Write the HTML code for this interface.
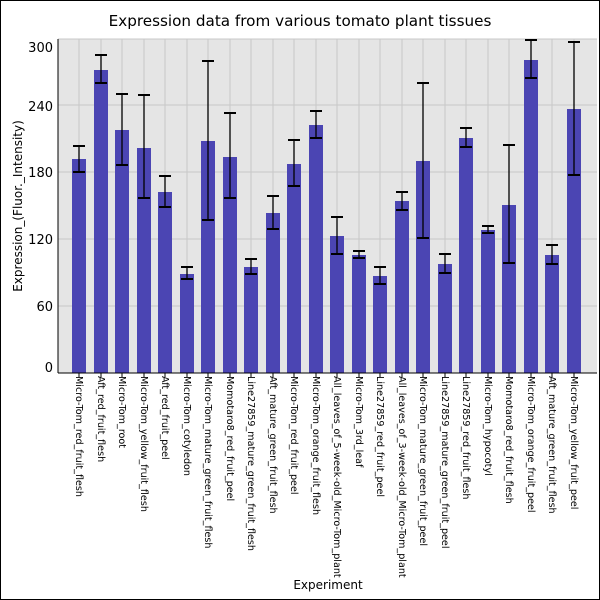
<!DOCTYPE html>
<html><head><meta charset="utf-8"><style>body{margin:0;background:#fff}svg{display:block}</style></head>
<body>
<svg width="600" height="600" xmlns="http://www.w3.org/2000/svg" font-family="DejaVu Sans, Liberation Sans, sans-serif">
<rect x="0.5" y="0.5" width="599" height="599" fill="#fff" stroke="#000"/>
<text x="300" y="26" text-anchor="middle" font-size="15.2">Expression data from various tomato plant tissues</text>
<rect x="58" y="39" width="539" height="334" fill="#e5e5e5"/>
<g stroke="#c8c8c8" stroke-width="1">
<line x1="58" x2="597" y1="306" y2="306"/><line x1="58" x2="597" y1="239" y2="239"/><line x1="58" x2="597" y1="172" y2="172"/><line x1="58" x2="597" y1="105" y2="105"/><line x1="58" x2="597" y1="39" y2="39"/>
<path d="M79 39V373M101 39V373M122 39V373M144 39V373M165 39V373M187 39V373M208 39V373M230 39V373M251 39V373M273 39V373M294 39V373M316 39V373M337 39V373M359 39V373M380 39V373M402 39V373M423 39V373M445 39V373M466 39V373M488 39V373M509 39V373M531 39V373M552 39V373M574 39V373"/>
</g>
<g fill="#4b45b3">
<rect x="72" y="159" width="14" height="214"/>
<rect x="94" y="70" width="14" height="303"/>
<rect x="115" y="130" width="14" height="243"/>
<rect x="137" y="148" width="14" height="225"/>
<rect x="158" y="192" width="14" height="181"/>
<rect x="180" y="274" width="14" height="99"/>
<rect x="201" y="141" width="14" height="232"/>
<rect x="223" y="157" width="14" height="216"/>
<rect x="244" y="267" width="14" height="106"/>
<rect x="266" y="213" width="14" height="160"/>
<rect x="287" y="164" width="14" height="209"/>
<rect x="309" y="125" width="14" height="248"/>
<rect x="330" y="236" width="14" height="137"/>
<rect x="352" y="255" width="14" height="118"/>
<rect x="373" y="276" width="14" height="97"/>
<rect x="395" y="201" width="14" height="172"/>
<rect x="416" y="161" width="14" height="212"/>
<rect x="438" y="264" width="14" height="109"/>
<rect x="459" y="138" width="14" height="235"/>
<rect x="481" y="230" width="14" height="143"/>
<rect x="502" y="205" width="14" height="168"/>
<rect x="524" y="60" width="14" height="313"/>
<rect x="545" y="255" width="14" height="118"/>
<rect x="567" y="109" width="14" height="264"/>
</g>
<g stroke="#000" stroke-width="1.3" fill="none">
<path d="M79 146V172M101 55V83M122 94V165M144 95V198M165 176V207M187 267V279M208 61V220M230 113V198M251 259V274M273 196V229M294 140V186M316 111V138M337 217V254M359 251V258M380 267V284M402 192V210M423 83V238M445 254V273M466 128V147M488 226V233M509 145V263M531 40V78M552 245V264M574 42V175"/>
<path stroke-width="2" d="M73 146h12M73 172h12M95 55h12M95 83h12M116 94h12M116 165h12M138 95h12M138 198h12M159 176h12M159 207h12M181 267h12M181 279h12M202 61h12M202 220h12M224 113h12M224 198h12M245 259h12M245 274h12M267 196h12M267 229h12M288 140h12M288 186h12M310 111h12M310 138h12M331 217h12M331 254h12M353 251h12M353 258h12M374 267h12M374 284h12M396 192h12M396 210h12M417 83h12M417 238h12M439 254h12M439 273h12M460 128h12M460 147h12M482 226h12M482 233h12M503 145h12M503 263h12M525 40h12M525 78h12M546 245h12M546 264h12M568 42h12M568 175h12"/>
<path stroke-width="1" d="M79 373v4M101 373v4M122 373v4M144 373v4M165 373v4M187 373v4M208 373v4M230 373v4M251 373v4M273 373v4M294 373v4M316 373v4M337 373v4M359 373v4M380 373v4M402 373v4M423 373v4M445 373v4M466 373v4M488 373v4M509 373v4M531 373v4M552 373v4M574 373v4"/>
</g>
<line x1="58" y1="373" x2="597" y2="373" stroke="#000"/>
<line x1="58" y1="39" x2="58" y2="373" stroke="#000"/>
<g font-size="13" text-anchor="end" fill="#000">
<text x="53" y="52">300</text><text x="53" y="111">240</text><text x="53" y="177">180</text><text x="53" y="244">120</text><text x="53" y="311">60</text><text x="53" y="372">0</text>
</g>
<text transform="translate(22,206) rotate(-90)" text-anchor="middle" font-size="12">Expression_(Fluor._Intensity)</text>
<text x="328" y="589" text-anchor="middle" font-size="12">Experiment</text>
<g font-size="9.6">
<text transform="translate(76,376) rotate(90)">Micro-Tom_red_fruit_flesh</text>
<text transform="translate(98,376) rotate(90)">Aft_red_fruit_flesh</text>
<text transform="translate(119,376) rotate(90)">Micro-Tom_root</text>
<text transform="translate(141,376) rotate(90)">Micro-Tom_yellow_fruit_flesh</text>
<text transform="translate(162,376) rotate(90)">Aft_red_fruit_peel</text>
<text transform="translate(184,376) rotate(90)">Micro-Tom_cotyledon</text>
<text transform="translate(205,376) rotate(90)">Micro-Tom_mature_green_fruit_flesh</text>
<text transform="translate(227,376) rotate(90)">Momotaro8_red_fruit_peel</text>
<text transform="translate(248,376) rotate(90)">Line27859_mature_green_fruit_flesh</text>
<text transform="translate(270,376) rotate(90)">Aft_mature_green_fruit_flesh</text>
<text transform="translate(291,376) rotate(90)">Micro-Tom_red_fruit_peel</text>
<text transform="translate(313,376) rotate(90)">Micro-Tom_orange_fruit_flesh</text>
<text transform="translate(334,376) rotate(90)">All_leaves_of_5-week-old_Micro-Tom_plant</text>
<text transform="translate(356,376) rotate(90)">Micro-Tom_3rd_leaf</text>
<text transform="translate(377,376) rotate(90)">Line27859_red_fruit_peel</text>
<text transform="translate(399,376) rotate(90)">All_leaves_of_3-week-old_Micro-Tom_plant</text>
<text transform="translate(420,376) rotate(90)">Micro-Tom_mature_green_fruit_peel</text>
<text transform="translate(442,376) rotate(90)">Line27859_mature_green_fruit_peel</text>
<text transform="translate(463,376) rotate(90)">Line27859_red_fruit_flesh</text>
<text transform="translate(485,376) rotate(90)">Micro-Tom_hypocotyl</text>
<text transform="translate(506,376) rotate(90)">Momotaro8_red_fruit_flesh</text>
<text transform="translate(528,376) rotate(90)">Micro-Tom_orange_fruit_peel</text>
<text transform="translate(549,376) rotate(90)">Aft_mature_green_fruit_flesh</text>
<text transform="translate(571,376) rotate(90)">Micro-Tom_yellow_fruit_peel</text>
</g>
</svg>
</body></html>
